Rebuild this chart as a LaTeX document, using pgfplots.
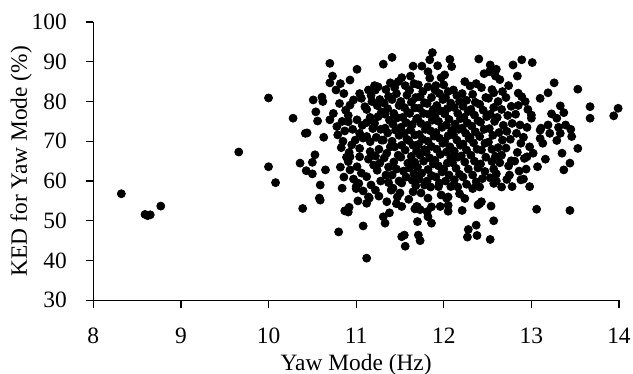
\documentclass[border=0pt]{standalone}
\usepackage{fontspec}
\setmainfont{Liberation Serif}
\usepackage{pgfplots}
\pgfplotsset{compat=1.18}
\begin{document}
\begin{tikzpicture}
\path[use as bounding box] (-46.65pt,-36.85pt) rectangle (269.85pt,150.15pt);
\begin{axis}[
  at={(0,0)}, anchor=south west,
  scale only axis, width=262.85pt, height=139.15pt,
  xmin=8, xmax=14, ymin=30, ymax=100,
  xtick={8,9,...,14}, ytick={30,40,...,100},
  axis lines*=left,
  axis line style={black, line width=0.6pt},
  tick style={black, line width=0.6pt},
  tick align=outside, major tick length=3.7pt,
  font=\fontsize{11.7}{14}\selectfont,
  /pgf/number format/assume math mode=true,
  yticklabel style={xshift=-6pt},
  xticklabel style={yshift=-6.5pt},
  xlabel={Yaw Mode (Hz)},
  ylabel={KED for Yaw Mode (\%)},
  xlabel style={at={(axis description cs:0.5,0)}, anchor=center, yshift=-32.5pt},
  ylabel style={at={(axis description cs:0,0.5)}, anchor=center, rotate=0, yshift=36.1pt},
  clip=false,
]
\addplot[only marks, mark=*, mark size=2pt, black, mark options={fill=black, draw=black}] table {
x y
8.32 56.8
8.59 51.6
8.62 51.3
8.65 51.5
8.77 53.7
9.66 67.3
10.00 80.9
10.00 63.6
10.08 59.6
10.28 75.8
10.36 64.5
10.43 62.6
10.50 61.8
10.50 64.7
10.53 66.6
10.65 62.8
10.59 59.0
10.58 55.7
10.59 55.2
10.39 53.1
10.42 72.0
10.44 72.1
10.51 80.4
10.61 81.1
10.62 80.0
10.54 77.4
10.56 75.1
10.63 71.0
10.70 89.6
10.73 86.4
10.70 84.7
10.77 82.9
10.70 75.4
10.74 77.0
10.78 73.7
10.79 71.6
10.82 84.5
10.86 82.0
10.81 79.5
10.88 77.8
10.84 75.0
10.87 72.6
10.85 70.0
10.83 68.4
10.89 66.0
10.82 63.5
10.86 61.0
10.84 58.2
10.87 52.5
10.80 47.2
10.93 85.4
10.97 80.4
10.93 79.1
10.91 76.5
10.91 74.9
10.96 73.0
10.99 70.3
10.95 69.1
10.92 67.2
10.91 64.9
10.93 62.8
10.97 60.5
11.00 58.6
10.92 53.4
10.91 52.2
10.93 66.1
11.01 88.1
11.04 82.0
11.06 80.8
11.10 78.7
11.01 75.4
11.07 74.0
11.04 72.0
11.08 70.8
11.04 68.2
11.04 66.1
11.01 63.6
11.06 62.0
11.03 59.4
11.08 57.5
11.02 55.0
11.08 48.7
11.00 58.1
11.14 82.9
11.17 81.5
11.18 80.0
11.12 78.0
11.16 76.0
11.12 74.7
11.19 73.2
11.12 71.2
11.16 69.9
11.16 67.4
11.14 65.5
11.20 64.0
11.12 61.1
11.17 59.0
11.14 56.0
11.15 55.7
11.12 54.4
11.12 40.6
11.21 84.0
11.22 82.9
11.27 80.5
11.24 79.0
11.29 77.4
11.25 76.2
11.21 74.5
11.28 73.0
11.23 71.0
11.29 70.3
11.26 68.0
11.22 66.3
11.27 64.5
11.24 62.7
11.28 60.0
11.22 57.7
11.26 56.2
11.25 83.7
11.31 89.4
11.39 84.7
11.34 83.0
11.37 81.3
11.32 79.6
11.36 78.2
11.33 76.8
11.38 75.3
11.33 73.3
11.36 72.1
11.31 70.3
11.39 68.6
11.35 67.0
11.32 65.8
11.37 63.5
11.34 61.5
11.37 59.6
11.31 51.0
11.33 49.4
11.38 52.0
11.35 54.8
11.41 91.1
11.48 85.0
11.44 83.5
11.46 82.0
11.41 80.5
11.49 79.0
11.43 77.0
11.47 75.9
11.42 74.3
11.45 72.8
11.49 71.5
11.41 70.0
11.44 68.6
11.48 66.5
11.43 64.8
11.46 63.0
11.41 61.5
11.49 60.0
11.42 58.2
11.46 54.3
11.47 56.0
11.40 57.7
11.52 86.0
11.56 84.0
11.58 81.6
11.51 80.0
11.55 78.5
11.59 77.3
11.53 76.0
11.57 74.7
11.51 73.5
11.55 72.0
11.58 70.5
11.52 69.0
11.56 67.8
11.51 66.0
11.59 64.5
11.54 62.5
11.57 61.0
11.52 59.5
11.50 57.0
11.52 53.6
11.52 46.0
11.55 46.4
11.56 43.6
11.60 55.4
11.65 88.9
11.62 86.4
11.66 84.5
11.61 82.8
11.68 81.0
11.63 79.8
11.67 78.4
11.61 77.0
11.69 75.6
11.64 74.2
11.62 72.9
11.67 71.6
11.60 70.2
11.65 69.0
11.69 67.5
11.63 66.2
11.67 64.7
11.61 63.3
11.66 61.8
11.64 60.2
11.68 58.8
11.65 57.3
11.67 53.0
11.69 53.6
11.75 88.9
11.71 84.2
11.76 82.5
11.73 81.2
11.78 79.7
11.72 78.3
11.77 77.0
11.70 75.8
11.74 74.5
11.79 73.0
11.72 71.7
11.76 70.5
11.71 69.2
11.78 67.9
11.73 66.5
11.77 65.0
11.70 63.5
11.75 62.0
11.72 60.5
11.78 59.0
11.74 57.0
11.70 53.5
11.73 52.8
11.70 49.8
11.71 46.4
11.73 45.0
11.87 92.3
11.84 90.5
11.82 87.5
11.84 85.9
11.82 83.7
11.90 82.9
11.86 81.0
11.81 79.5
11.88 78.0
11.83 76.8
11.87 75.3
11.81 74.0
11.85 72.6
11.89 71.3
11.82 70.0
11.86 68.7
11.80 67.2
11.84 65.8
11.88 64.3
11.82 62.9
11.86 61.4
11.81 60.0
11.85 58.5
11.82 55.7
11.86 53.5
11.81 52.3
11.82 51.0
11.86 49.4
11.93 89.0
11.97 86.0
11.91 84.0
11.95 82.0
11.99 80.5
11.92 79.0
11.96 77.7
11.90 76.3
11.94 75.0
11.98 73.5
11.91 72.2
11.95 70.8
11.99 69.5
11.92 68.0
11.96 66.7
11.90 65.2
11.94 63.8
11.98 62.3
11.91 61.0
11.95 59.5
11.94 58.6
11.97 56.5
11.96 53.6
12.07 90.6
12.09 88.8
12.01 86.7
12.00 84.2
12.05 82.5
12.02 81.0
12.08 79.6
12.04 78.2
12.01 76.9
12.06 75.5
12.03 74.1
12.09 72.7
12.05 71.4
12.01 70.0
12.07 68.6
12.03 67.3
12.08 65.9
12.04 64.5
12.00 63.0
12.06 61.5
12.02 60.0
12.08 58.6
12.05 56.0
12.03 55.7
12.05 53.9
12.05 52.4
12.11 82.9
12.15 81.5
12.18 80.0
12.12 78.5
12.16 77.0
12.19 75.7
12.13 74.3
12.17 73.0
12.11 71.6
12.15 70.3
12.19 69.0
12.12 67.5
12.16 66.0
12.10 64.6
12.14 63.2
12.18 61.7
12.12 60.3
12.16 58.5
12.18 56.8
12.24 85.0
12.21 82.0
12.26 80.3
12.22 78.8
12.28 77.5
12.23 76.0
12.27 74.6
12.21 73.3
12.25 72.0
12.29 70.7
12.22 69.3
12.26 67.8
12.20 66.3
12.24 64.8
12.28 63.0
12.22 61.0
12.26 59.2
12.24 55.6
12.21 52.6
12.28 47.8
12.27 45.9
12.37 84.5
12.30 83.9
12.33 81.8
12.36 79.8
12.31 78.0
12.35 76.6
12.39 75.2
12.32 73.8
12.36 72.4
12.30 71.0
12.34 69.6
12.38 68.0
12.31 66.5
12.35 65.0
12.39 63.3
12.33 61.5
12.37 59.8
12.33 58.1
12.39 54.0
12.37 48.9
12.38 46.3
12.40 90.7
12.46 87.0
12.43 83.5
12.48 81.0
12.41 79.3
12.45 77.8
12.49 76.2
12.42 74.8
12.46 73.0
12.41 71.2
12.47 69.5
12.43 67.8
12.48 66.0
12.42 64.3
12.47 62.4
12.44 60.6
12.41 58.5
12.41 54.3
12.43 54.8
12.53 89.2
12.60 88.1
12.52 87.5
12.59 86.4
12.55 83.0
12.57 82.2
12.51 80.8
12.57 78.5
12.53 76.8
12.58 75.0
12.52 73.2
12.56 71.5
12.51 69.8
12.55 68.0
12.59 66.2
12.55 64.9
12.57 63.0
12.53 60.8
12.57 59.4
12.54 53.7
12.57 50.0
12.53 45.3
12.64 85.5
12.67 82.5
12.62 80.0
12.66 78.0
12.61 76.0
12.68 74.0
12.63 72.2
12.67 70.3
12.62 68.4
12.66 66.5
12.64 64.6
12.60 61.8
12.60 60.0
12.66 58.5
12.79 89.2
12.74 84.0
12.71 81.0
12.77 78.8
12.73 76.5
12.78 74.5
12.72 72.5
12.76 70.5
12.71 68.3
12.77 65.1
12.74 63.8
12.72 60.4
12.78 58.6
12.75 61.5
12.89 90.5
12.84 86.4
12.85 82.1
12.89 81.2
12.85 79.0
12.82 76.8
12.87 74.1
12.83 72.0
12.88 69.5
12.84 67.2
12.81 65.0
12.86 62.5
12.88 60.3
13.01 89.8
12.93 80.0
12.96 78.0
13.00 76.6
13.00 75.8
12.95 73.5
12.91 71.0
12.98 68.6
12.92 65.7
12.95 66.1
12.94 63.0
12.91 60.5
12.98 58.6
13.26 84.7
13.19 82.2
13.53 83.1
13.10 80.8
13.33 78.9
13.37 77.2
13.23 76.9
13.29 75.8
13.67 78.7
13.67 75.8
13.99 78.3
13.94 76.4
13.19 74.1
13.11 73.3
13.31 73.5
13.39 74.1
13.45 73.0
13.21 72.0
13.33 72.0
13.46 71.2
13.29 70.2
13.13 69.5
13.10 70.7
13.53 68.2
13.35 67.0
13.44 64.5
13.37 62.8
13.02 67.0
13.07 63.6
13.16 65.5
13.06 52.9
13.44 52.6
13.10 72.8
};
\end{axis}
\end{tikzpicture}
\end{document}
